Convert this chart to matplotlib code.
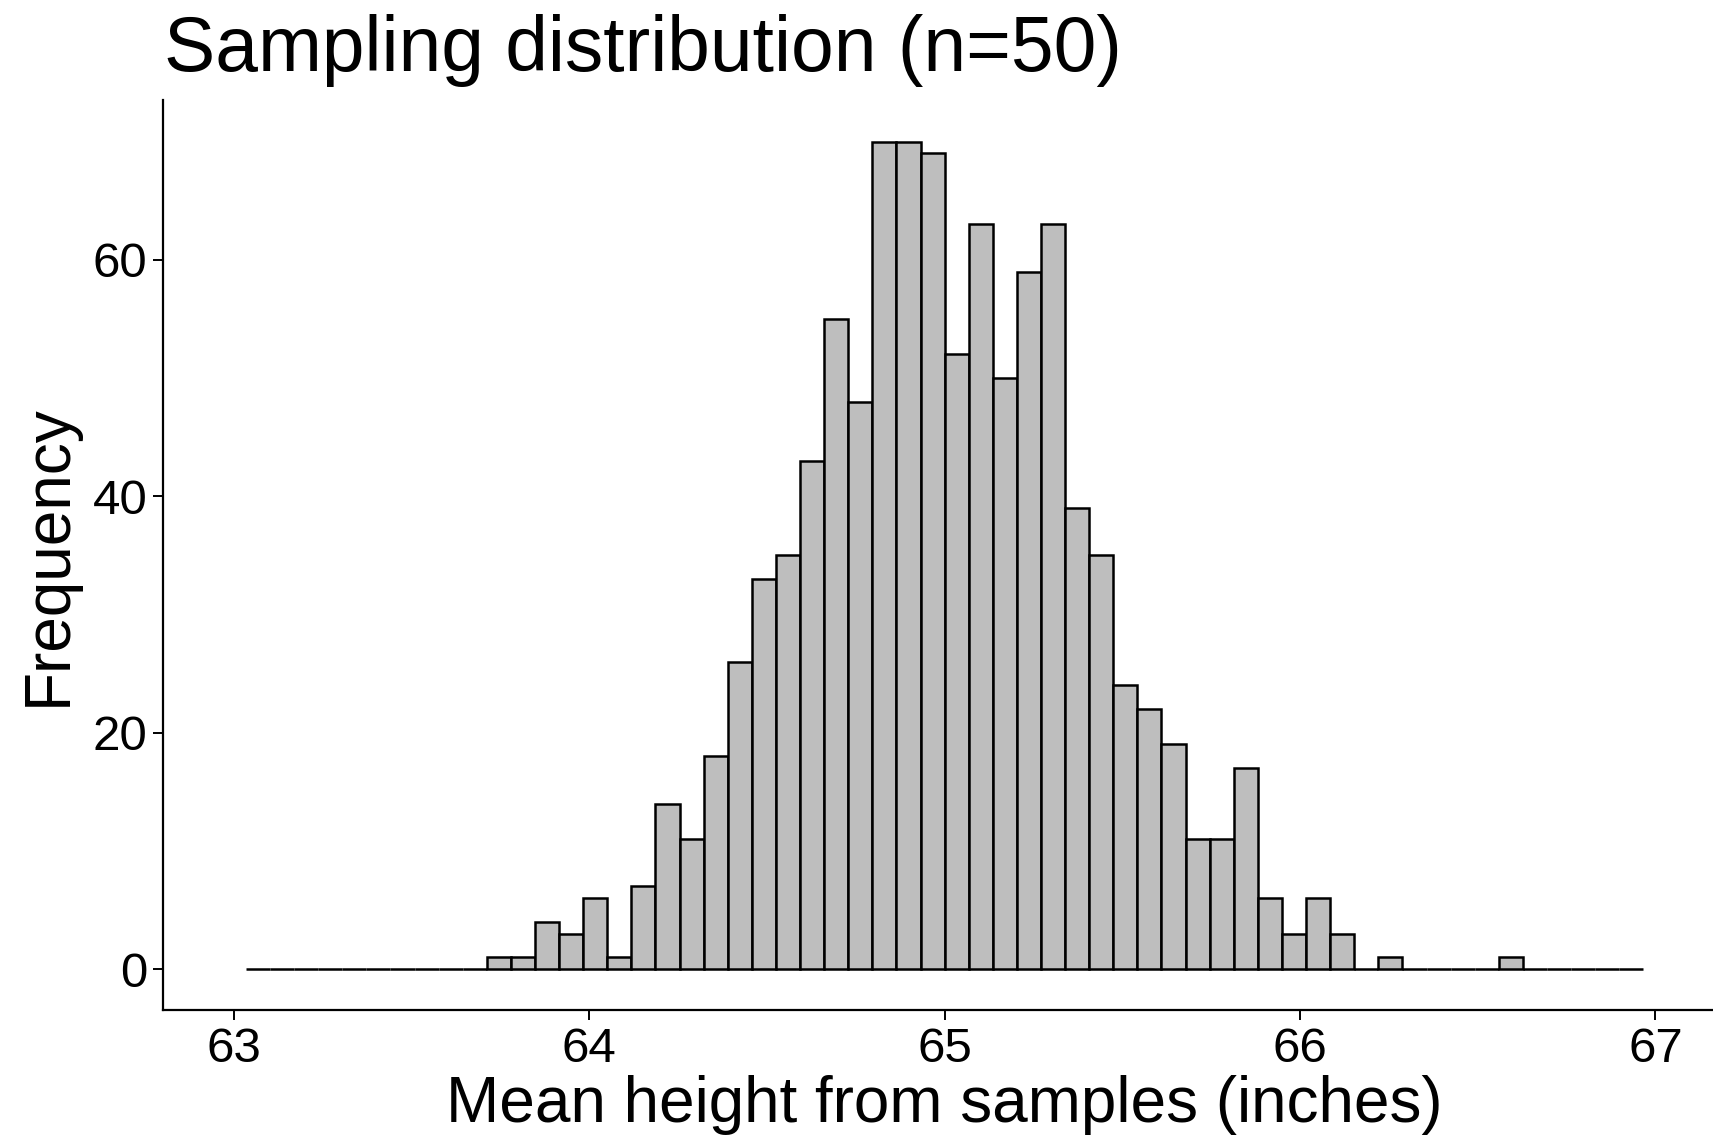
import numpy as np
import matplotlib.pyplot as plt

# -------- DATOS: conteos por bin (60 bins entre 63 y 67, se dibujan 58) --------
x_lim = (63, 67)
n_bins = 60
conteos = [0, 0, 0, 0, 0, 0, 0, 0, 0, 0,
           1, 1, 4, 3, 6, 1, 7, 14, 11, 18,
           26, 33, 35, 43, 55, 48, 70, 70, 69, 52,
           63, 50, 59, 63, 39, 35, 24, 22, 19, 11,
           11, 17, 6, 3, 6, 3, 0, 1, 0, 0,
           0, 0, 1, 0, 0, 0, 0, 0]
x_ticks = [63, 64, 65, 66, 67]
y_ticks = [0, 20, 40, 60]

titulo = "Sampling distribution (n=50)"
x_label = "Mean height from samples (inches)"
y_label = "Frequency"

# centros de bin tipo ggplot (bins=60 sobre los limites, se quitan los extremos)
ancho = (x_lim[1] - x_lim[0]) / (n_bins - 1)
centros = x_lim[0] + ancho * np.arange(1, len(conteos) + 1)

plt.rcParams['font.family'] = ['Liberation Sans', 'DejaVu Sans']

fig = plt.figure(figsize=(17.13, 11.42), dpi=100)
ax = fig.add_axes([0.0950, 0.1152, 0.9129, 0.7970])

ax.bar(centros, conteos, width=ancho, color='#BEBEBE',
       edgecolor='black', linewidth=1.8, align='center')

# expansion del 5% como ggplot
dx = 0.05 * (x_lim[1] - x_lim[0])
ax.set_xlim(x_lim[0] - dx, x_lim[1] + dx)
ymax = max(conteos)
ax.set_ylim(-0.05 * ymax, 1.05 * ymax)

ax.set_xticks(x_ticks)
ax.set_yticks(y_ticks)
ax.tick_params(axis='both', labelsize=35.5, length=7, width=1.4, color='black')
ax.tick_params(axis='x', pad=5)
ax.tick_params(axis='y', pad=4)

for lado in ['top', 'right']:
    ax.spines[lado].set_visible(False)
for lado in ['left', 'bottom']:
    ax.spines[lado].set_linewidth(1.6)

ax.set_xlabel(x_label, fontsize=46, labelpad=2)
ax.set_ylabel(y_label, fontsize=46, labelpad=10)

fig.text(164 / 1713, 1 - 71 / 1142, titulo, fontsize=55.3,
         ha='left', va='baseline')

plt.savefig("out.png", dpi=100)
